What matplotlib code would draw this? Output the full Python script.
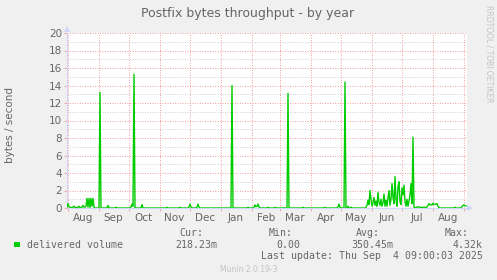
import matplotlib
matplotlib.use('Agg')
import matplotlib.pyplot as plt
from matplotlib.patches import Rectangle, Polygon
import matplotlib.dates as mdates
import datetime as dt

W, H = 497, 280

# ---------------- data ----------------
start = dt.datetime(2024, 7, 31, 9, 0, 3)
end = dt.datetime(2025, 9, 4, 9, 0, 3)

# one value per day (bytes / second), 400 days starting at `start`
delivered_volume = [
    0.1, 0.5, 0.15, 0.1, 0.05, 0.05, 0.1, 0.2, 0.05, 0.05, 0.05, 0.1, 0.2, 0.05, 0.05, 0.1, 0.3, 0.1, 0.1, 0.2,
    1.1, 0.1, 1.1, 0.05, 1.1, 0.2, 1.1, 0.1, 0, 0, 0, 0, 0, 13.2, 0, 0, 0, 0, 0, 0,
    0, 0.3, 0.05, 0, 0, 0, 0, 0, 0, 0.1, 0, 0, 0, 0, 0, 0, 0, 0, 0, 0,
    0, 0, 0, 0, 0.1, 0.45, 0.2, 15.3, 0, 0, 0, 0, 0, 0, 0, 0.4, 0, 0, 0, 0,
    0, 0, 0, 0, 0, 0, 0, 0, 0, 0, 0, 0, 0, 0, 0, 0, 0, 0, 0, 0,
    0.08, 0, 0, 0, 0, 0, 0, 0, 0, 0, 0, 0, 0, 0.08, 0, 0, 0, 0, 0, 0,
    0, 0, 0.1, 0.45, 0.1, 0, 0, 0, 0, 0, 0.1, 0.45, 0.1, 0, 0, 0, 0, 0, 0, 0,
    0, 0, 0, 0, 0, 0, 0, 0, 0, 0, 0, 0, 0, 0, 0, 0, 0, 0, 0, 0,
    0, 0, 0, 0, 0, 14.0, 0, 0, 0, 0, 0, 0, 0, 0, 0, 0, 0, 0, 0, 0,
    0, 0.08, 0, 0, 0, 0, 0, 0.1, 0.35, 0.15, 0.2, 0.45, 0.1, 0, 0, 0, 0, 0, 0, 0,
    0, 0.08, 0, 0, 0, 0, 0, 0, 0.08, 0, 0, 0, 0, 0, 0, 0, 0, 0, 0, 0,
    0, 13.1, 0, 0, 0, 0, 0, 0, 0, 0, 0, 0, 0, 0, 0, 0, 0.08, 0, 0, 0,
    0, 0, 0, 0, 0, 0, 0, 0, 0, 0, 0, 0, 0, 0, 0, 0, 0, 0, 0.08, 0,
    0, 0, 0, 0, 0, 0, 0, 0, 0, 0, 0, 0.1, 0.45, 0.1, 0, 0, 0, 0, 14.4, 0,
    0, 0.2, 0, 0, 0.1, 0, 0, 0, 0, 0, 0, 0, 0, 0, 0, 0, 0, 0, 0, 0.1,
    0.3, 0.9, 0.4, 2.0, 1.0, 0.2, 0.6, 1.2, 0.3, 0.8, 0.2, 1.8, 0.6, 0.3, 1.0, 0.2, 0.6, 1.6, 0.2, 0.9,
    0.2, 1.2, 2.0, 0.3, 1.0, 2.8, 1.2, 0.5, 3.6, 1.0, 0.2, 2.4, 3.0, 0.7, 0.4, 2.3, 1.5, 2.6, 0.7, 0.2,
    1.0, 0.2, 0.8, 1.5, 2.8, 0.5, 8.1, 0.1, 0, 0.05, 0.1, 0.15, 0.1, 0.05, 0.1, 0.05, 0.05, 0.1, 0.1, 0.05,
    0.1, 0.3, 0.5, 0.35, 0.4, 0.35, 0.55, 0.4, 0.4, 0.45, 0.5, 0.2, 0.05, 0, 0, 0, 0, 0, 0, 0,
    0, 0, 0, 0, 0, 0, 0, 0, 0.1, 0, 0, 0, 0, 0, 0, 0.15, 0.3, 0.35, 0.25, 0.22,
]
dates = [start + dt.timedelta(days=i) for i in range(len(delivered_volume))]

title = "Postfix bytes throughput - by year"
y_label = "bytes / second"
y_ticks = [0, 2, 4, 6, 8, 10, 12, 14, 16, 18, 20]
y_minor = [1, 3, 5, 7, 9, 11, 13, 15, 17, 19]
month_starts = [dt.datetime(2024, m, 1) for m in range(8, 13)] + [dt.datetime(2025, m, 1) for m in range(1, 10)]
month_names = ["Aug", "Sep", "Oct", "Nov", "Dec", "Jan", "Feb", "Mar", "Apr", "May", "Jun", "Jul", "Aug"]
month_mids = [dt.datetime(2024, 8, 16)] + [d + dt.timedelta(days=15) for d in month_starts[1:13]]

series_name = "delivered volume"
stat_headers = ["Cur:", "Min:", "Avg:", "Max:"]
stat_values = ["218.23m", "0.00", "350.45m", "4.32k"]
last_update = "Last update: Thu Sep  4 09:00:03 2025"
footer = "Munin 2.0.19-3"
side_text = "RRDTOOL / TOBI OETIKER"

# ---------------- style ----------------
BACK = "#F0F0F0"
FONT = "#666666"
AXIS = "#CFD6F8"
MGRID = "#F5A3A3"
GRID = "#CFCFCF"
LINE = "#00CC00"
SANS = "DejaVu Sans"
MONO = "DejaVu Sans Mono"


def fx(x):
    return x / W


def fy(y):
    return 1 - y / H


fig = plt.figure(figsize=(W / 100, H / 100), dpi=100, facecolor=BACK)
L, R, T, B = 67, 467, 33, 208
ax = fig.add_axes([fx(L), fy(B), (R - L) / W, (B - T) / H], facecolor="white")

# grid
for v in y_minor:
    ax.axhline(v, color=GRID, lw=0.72, ls=(0, (1, 1.5)), zorder=1)
for v in y_ticks[1:]:
    ax.axhline(v, color=MGRID, lw=0.72, ls=(0, (1, 1.5)), zorder=1)
for d in month_starts:
    if start < d < end:
        ax.axvline(d, color=MGRID, lw=0.72, ls=(0, (1, 1.5)), zorder=1)

ax.plot(dates, delivered_volume, color=LINE, lw=1.0, zorder=3)

ax.set_xlim(start, end)
ax.set_ylim(0, 20)

for s in ["top", "right"]:
    ax.spines[s].set_visible(False)
for s in ["left", "bottom"]:
    ax.spines[s].set_color(AXIS)
    ax.spines[s].set_linewidth(0.8)
    ax.spines[s].set_zorder(2)

ax.set_yticks(y_ticks)
ax.set_yticklabels([str(v) for v in y_ticks])
ax.tick_params(axis='y', length=2, width=0.7, color=MGRID, pad=1.5,
               labelsize=7.5, labelcolor=FONT)
ax.set_xticks([d for d in month_starts if start < d < end])
ax.set_xticklabels([])
ax.set_xticks(month_mids, minor=True)
ax.set_xticklabels(month_names, minor=True)
ax.tick_params(axis='x', which='major', length=2, width=0.7, color=MGRID)
ax.tick_params(axis='x', which='minor', length=0, pad=3.5, labelsize=7.5, labelcolor=FONT)
for lab in ax.get_xticklabels(minor=True) + ax.get_yticklabels():
    lab.set_family(SANS)

# arrows
fig.patches.append(Polygon([(fx(64), fy(32)), (fx(70), fy(32)), (fx(67), fy(26))],
                           closed=True, transform=fig.transFigure, color=AXIS, lw=0))
fig.patches.append(Polygon([(fx(467), fy(205)), (fx(467), fy(211)), (fx(473), fy(208))],
                           closed=True, transform=fig.transFigure, color=AXIS, lw=0))

# texts
fig.text(fx(248), fy(13), title, ha='center', va='center', fontsize=9,
         color=FONT, family=SANS)
fig.text(fx(10), fy(125), y_label, ha='center', va='center', rotation=90,
         fontsize=7.5, color=FONT, family=SANS)
fig.text(fx(489), fy(5), side_text, ha='center', va='top', rotation=270,
         fontsize=5.5, color="#C4C4C4", family=SANS)

fig.patches.append(Rectangle((fx(14), fy(247)), 6 / W, 5 / H, transform=fig.transFigure,
                             facecolor=LINE, edgecolor=LINE, lw=0))
fig.text(fx(27), fy(244.5), series_name, ha='left', va='center', fontsize=7.1,
         color=FONT, family=MONO)
header_right = [203, 293, 380, 469]
value_right = [217, 300, 393, 483]
for h, xr in zip(stat_headers, header_right):
    fig.text(fx(xr), fy(232.5), h, ha='right', va='center', fontsize=7.1, color=FONT, family=MONO)
for v, xr in zip(stat_values, value_right):
    fig.text(fx(xr), fy(244.5), v, ha='right', va='center', fontsize=7.1, color=FONT, family=MONO)
fig.text(fx(483), fy(256), last_update, ha='right', va='center', fontsize=7.1,
         color=FONT, family=MONO)
fig.text(fx(249), fy(269), footer, ha='center', va='center', fontsize=5.5,
         color="#C4C4C4", family=SANS)

fig.savefig("out.png", dpi=100, facecolor=BACK)
